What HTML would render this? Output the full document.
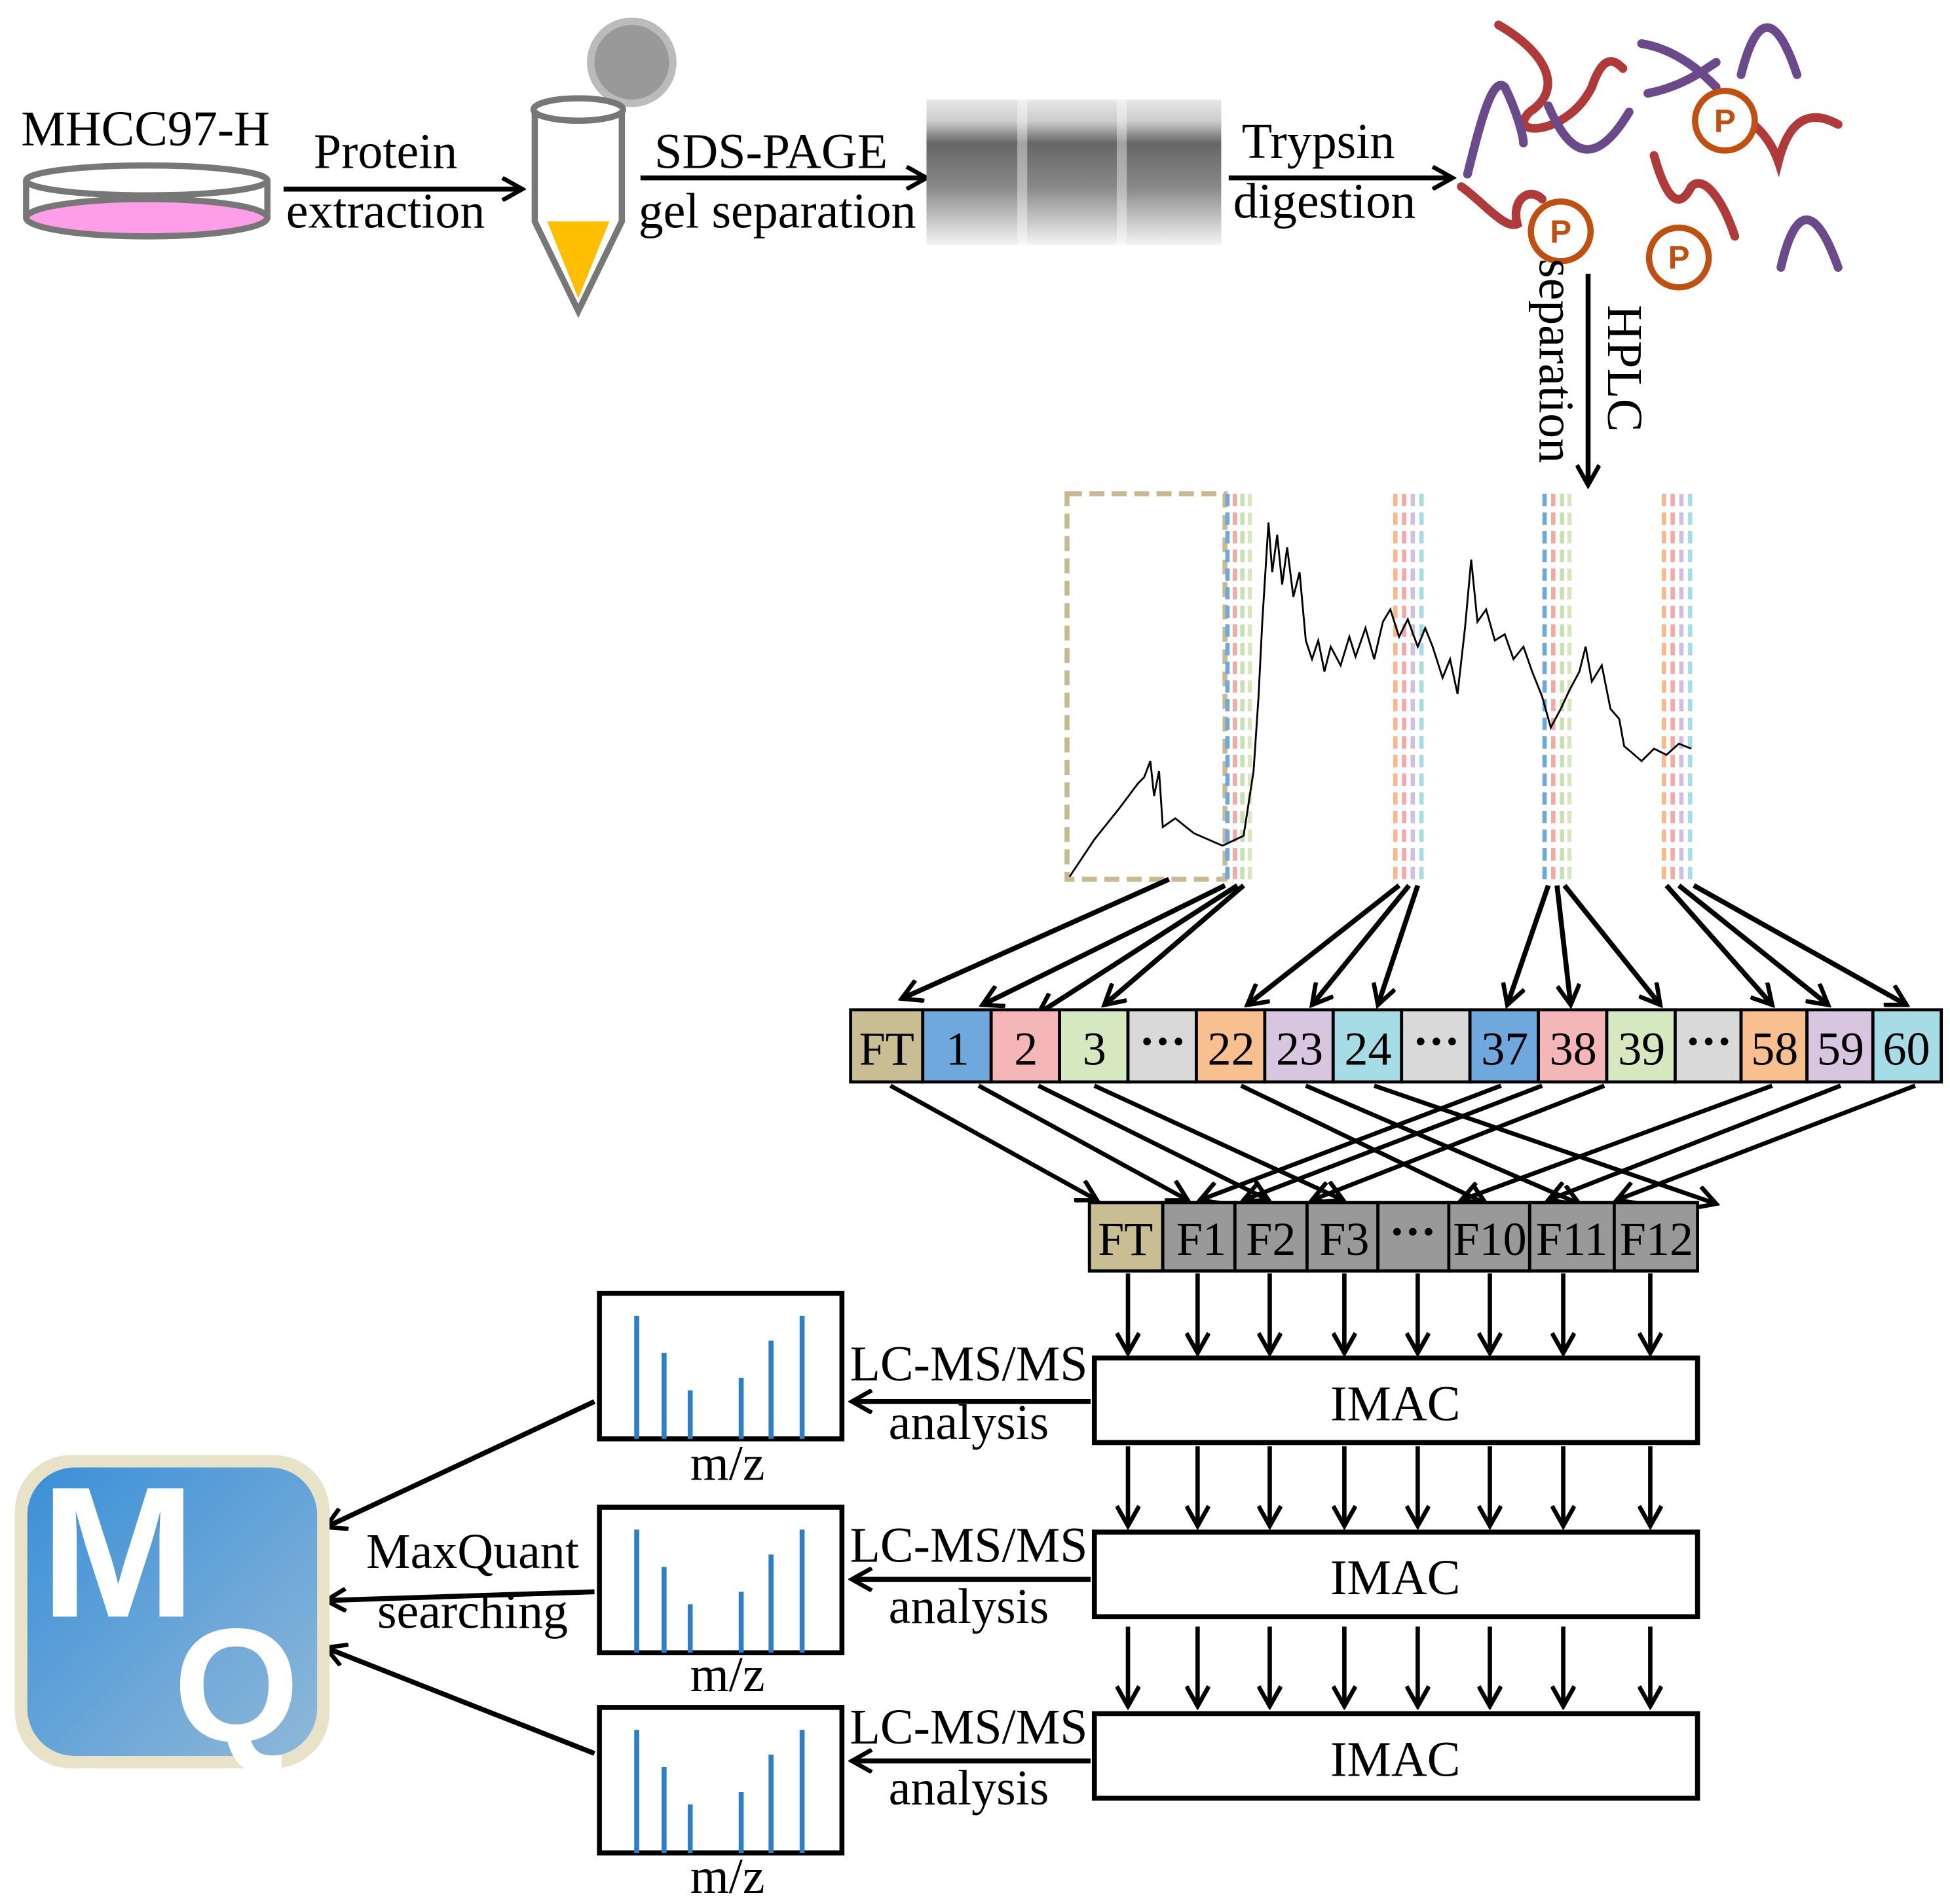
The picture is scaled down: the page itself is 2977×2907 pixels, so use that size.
<!DOCTYPE html>
<html><head><meta charset="utf-8"><style>html,body{margin:0;padding:0;background:#fff}svg{display:block}</style></head>
<body>
<svg width="2977" height="2907" viewBox="0 0 1568 1531" xmlns="http://www.w3.org/2000/svg" font-family="'Liberation Serif',serif">
<defs>
<marker id="b" markerWidth="20" markerHeight="20" refX="17" refY="10" orient="auto" markerUnits="userSpaceOnUse"><path d="M1,1 L17,10 L1,19" fill="none" stroke="#000" stroke-width="3.5"/></marker>
<linearGradient id="mq" x1="0" y1="0" x2="1" y2="1"><stop offset="0" stop-color="#3a8fd8"/><stop offset="1" stop-color="#8fb8d8"/></linearGradient>
<linearGradient id="gel" x1="0" y1="0" x2="0" y2="1"><stop offset="0" stop-color="#e8e8e8"/><stop offset="0.15" stop-color="#ccc"/><stop offset="0.3" stop-color="#666"/><stop offset="0.6" stop-color="#888"/><stop offset="1" stop-color="#f4f4f4"/></linearGradient>
</defs>
<g fill="none" stroke="#000" stroke-width="4">
<line x1="228" y1="152" x2="420" y2="152" marker-end="url(#b)"/>
<line x1="515" y1="143" x2="745" y2="143" marker-end="url(#b)"/>
<line x1="988" y1="143" x2="1168" y2="143" marker-end="url(#b)"/>
<line x1="1277" y1="220" x2="1277" y2="390" marker-end="url(#b)"/>
</g>
<ellipse cx="118" cy="175" rx="97" ry="15" fill="#ff9ee8" stroke="#777" stroke-width="5"/>
<path d="M21,145 L21,175 M215,145 L215,175" stroke="#777" stroke-width="5"/>
<ellipse cx="118" cy="145" rx="97" ry="12" fill="none" stroke="#777" stroke-width="5"/>
<g font-size="40" text-anchor="middle">
<text x="117" y="117">MHCC97-H</text>
<text x="310" y="135">Protein</text>
<text x="310" y="183">extraction</text>
<text x="620" y="135">SDS-PAGE</text>
<text x="625" y="183">gel separation</text>
<text x="1060" y="127">Trypsin</text>
<text x="1065" y="175">digestion</text>
</g>
<circle cx="508" cy="50" r="33" fill="#999" stroke="#bbb" stroke-width="6"/>
<path d="M440,178 L465,240 L490,178Z" fill="#ffbf00"/>
<path d="M430,90 L430,178 L465,250 L500,178 L500,90" fill="none" stroke="#777" stroke-width="5"/>
<ellipse cx="465" cy="88" rx="36" ry="9" fill="#fff" stroke="#777" stroke-width="5"/>
<rect x="745" y="80" width="237" height="117" fill="url(#gel)"/>
<rect x="818" y="80" width="8" height="117" fill="#fff" opacity="0.4"/>
<rect x="898" y="80" width="8" height="117" fill="#fff" opacity="0.4"/>
<g fill="none" stroke-width="7" stroke-linecap="round">
<path d="M1205,20 C1240,40 1260,70 1230,90 C1210,110 1260,110 1280,70 C1290,40 1300,50 1305,55" stroke="#b03a3a"/>
<path d="M1180,140 C1190,100 1200,60 1210,70 C1220,90 1225,110 1225,115" stroke="#6a4a8a"/>
<path d="M1245,85 C1260,120 1280,140 1310,90" stroke="#6a4a8a"/>
<path d="M1320,35 C1350,40 1370,60 1380,70" stroke="#6a4a8a"/>
<path d="M1325,75 C1350,70 1365,60 1380,50" stroke="#6a4a8a"/>
<path d="M1400,60 C1410,20 1425,0 1445,60" stroke="#6a4a8a"/>
<path d="M1370,95 C1390,80 1420,100 1430,130 C1440,90 1460,90 1478,100" stroke="#b03a3a"/>
<path d="M1175,150 C1190,160 1210,185 1220,180 C1215,160 1230,150 1240,160" stroke="#b03a3a"/>
<path d="M1330,125 C1340,160 1350,170 1360,150 C1370,140 1385,160 1395,190" stroke="#b03a3a"/>
<path d="M1432,215 C1440,180 1455,150 1478,215" stroke="#6a4a8a"/>
</g>
<g fill="#fff" stroke="#c05010" stroke-width="5">
<circle cx="1255" cy="186" r="24"/><circle cx="1387" cy="97" r="24"/><circle cx="1350" cy="207" r="24"/>
</g>
<g fill="#c05010" font-family="'Liberation Sans',sans-serif" font-weight="bold" font-size="26" text-anchor="middle">
<text x="1255" y="195">P</text><text x="1387" y="106">P</text><text x="1350" y="216">P</text></g>
<text transform="translate(1293,245) rotate(90)" font-size="40">HPLC</text>
<text transform="translate(1238,208) rotate(90)" font-size="40">separation</text>
<rect x="858" y="397" width="127" height="310" fill="none" stroke="#c8b990" stroke-width="4" stroke-dasharray="12,6"/>
<g stroke-width="3.5" stroke-dasharray="10,5">
<g transform="translate(987,0)"><line x1="0" y1="397" x2="0" y2="710" stroke="#6fa8dc"/><line x1="6" y1="397" x2="6" y2="710" stroke="#f4a8a8"/><line x1="12" y1="397" x2="12" y2="710" stroke="#c6e0b0"/><line x1="18" y1="397" x2="18" y2="710" stroke="#d5e8c0"/></g>
<g transform="translate(1122,0)"><line x1="0" y1="397" x2="0" y2="710" stroke="#f8b888"/><line x1="7" y1="397" x2="7" y2="710" stroke="#f4a8a8"/><line x1="14" y1="397" x2="14" y2="710" stroke="#d0c0e0"/><line x1="21" y1="397" x2="21" y2="710" stroke="#a5dce6"/></g>
<g transform="translate(1242,0)"><line x1="0" y1="397" x2="0" y2="710" stroke="#6fa8dc"/><line x1="7" y1="397" x2="7" y2="710" stroke="#f4a8a8"/><line x1="14" y1="397" x2="14" y2="710" stroke="#c6e0b0"/><line x1="20" y1="397" x2="20" y2="710" stroke="#d5e8c0"/></g>
<g transform="translate(1338,0)"><line x1="0" y1="397" x2="0" y2="710" stroke="#f8b888"/><line x1="7" y1="397" x2="7" y2="710" stroke="#f4a8a8"/><line x1="14" y1="397" x2="14" y2="710" stroke="#d0c0e0"/><line x1="21" y1="397" x2="21" y2="710" stroke="#a5dce6"/></g>
</g>
<polyline fill="none" stroke="#000" stroke-width="1.5" points="860,705 880,675 900,650 915,630 920,625 925,612 928,640 932,620 935,665 945,658 960,670 983,680 1000,672 1008,620 1012,560 1015,500 1020,420 1023,460 1027,430 1031,470 1035,440 1040,480 1045,460 1050,515 1055,530 1060,515 1065,540 1070,520 1078,535 1085,512 1090,528 1098,505 1105,530 1112,500 1118,490 1125,512 1132,498 1140,520 1146,505 1152,520 1160,545 1166,530 1172,558 1178,505 1183,450 1188,500 1195,490 1202,515 1210,510 1217,530 1225,520 1232,540 1240,560 1247,585 1255,570 1262,555 1270,540 1275,520 1280,548 1288,535 1295,570 1302,578 1306,600 1312,605 1320,612 1330,602 1340,607 1350,598 1360,602"/>
<g stroke="#000" stroke-width="4" fill="none">
<line x1="940" y1="707" x2="725" y2="803" marker-end="url(#b)"/>
<line x1="985" y1="712" x2="790" y2="808" marker-end="url(#b)"/>
<line x1="995" y1="712" x2="835" y2="815" marker-end="url(#b)"/>
<line x1="1000" y1="712" x2="888" y2="808" marker-end="url(#b)"/>
<line x1="1125" y1="712" x2="1003" y2="808" marker-end="url(#b)"/>
<line x1="1133" y1="712" x2="1055" y2="808" marker-end="url(#b)"/>
<line x1="1140" y1="712" x2="1108" y2="808" marker-end="url(#b)"/>
<line x1="1245" y1="712" x2="1212" y2="808" marker-end="url(#b)"/>
<line x1="1252" y1="712" x2="1263" y2="808" marker-end="url(#b)"/>
<line x1="1258" y1="712" x2="1335" y2="808" marker-end="url(#b)"/>
<line x1="1340" y1="712" x2="1425" y2="808" marker-end="url(#b)"/>
<line x1="1350" y1="712" x2="1470" y2="808" marker-end="url(#b)"/>
<line x1="1362" y1="712" x2="1533" y2="808" marker-end="url(#b)"/>
</g>
<g stroke="#000" stroke-width="2.5">
<rect x="684" y="812" width="58" height="58" fill="#c8bd93"/>
<rect x="742" y="812" width="55" height="58" fill="#6fa8dc"/>
<rect x="797" y="812" width="55" height="58" fill="#f4b6b6"/>
<rect x="852" y="812" width="55" height="58" fill="#d5e8c0"/>
<rect x="907" y="812" width="55" height="58" fill="#d9d9d9"/>
<rect x="962" y="812" width="55" height="58" fill="#f8c08e"/>
<rect x="1017" y="812" width="55" height="58" fill="#d8c5e0"/>
<rect x="1072" y="812" width="55" height="58" fill="#a5dce6"/>
<rect x="1127" y="812" width="55" height="58" fill="#d9d9d9"/>
<rect x="1182" y="812" width="55" height="58" fill="#6fa8dc"/>
<rect x="1237" y="812" width="55" height="58" fill="#f4b6b6"/>
<rect x="1292" y="812" width="55" height="58" fill="#d5e8c0"/>
<rect x="1347" y="812" width="53" height="58" fill="#d9d9d9"/>
<rect x="1400" y="812" width="53" height="58" fill="#f8c08e"/>
<rect x="1453" y="812" width="53" height="58" fill="#d8c5e0"/>
<rect x="1506" y="812" width="55" height="58" fill="#a5dce6"/>
</g>
<g font-size="38" text-anchor="middle">
<text x="713" y="856">FT</text><text x="770" y="856">1</text><text x="825" y="856">2</text><text x="880" y="856">3</text><text x="935" y="850" font-weight="bold">···</text>
<text x="990" y="856">22</text><text x="1045" y="856">23</text><text x="1100" y="856">24</text><text x="1155" y="850" font-weight="bold">···</text>
<text x="1210" y="856">37</text><text x="1265" y="856">38</text><text x="1320" y="856">39</text><text x="1374" y="850" font-weight="bold">···</text>
<text x="1427" y="856">58</text><text x="1480" y="856">59</text><text x="1533" y="856">60</text>
</g>
<g stroke="#000" stroke-width="3.5">
<line x1="716" y1="873" x2="882" y2="965" marker-end="url(#b)"/>
<line x1="787" y1="873" x2="955" y2="965" marker-end="url(#b)"/>
<line x1="835" y1="873" x2="1020" y2="965" marker-end="url(#b)"/>
<line x1="880" y1="873" x2="1080" y2="965" marker-end="url(#b)"/>
<line x1="998" y1="873" x2="1195" y2="968" marker-end="url(#b)"/>
<line x1="1050" y1="873" x2="1270" y2="968" marker-end="url(#b)"/>
<line x1="1105" y1="873" x2="1380" y2="968" marker-end="url(#b)"/>
<line x1="1207" y1="873" x2="965" y2="965" marker-end="url(#b)"/>
<line x1="1240" y1="873" x2="1000" y2="965" marker-end="url(#b)"/>
<line x1="1290" y1="873" x2="1055" y2="965" marker-end="url(#b)"/>
<line x1="1425" y1="873" x2="1175" y2="965" marker-end="url(#b)"/>
<line x1="1480" y1="873" x2="1245" y2="965" marker-end="url(#b)"/>
<line x1="1540" y1="873" x2="1300" y2="965" marker-end="url(#b)"/>
</g>
<g stroke="#000" stroke-width="2.5">
<rect x="876" y="967" width="59" height="55" fill="#c8bd93"/>
<rect x="935" y="967" width="58" height="55" fill="#999"/>
<rect x="993" y="967" width="58" height="55" fill="#999"/>
<rect x="1051" y="967" width="57" height="55" fill="#999"/>
<rect x="1108" y="967" width="57" height="55" fill="#999"/>
<rect x="1165" y="967" width="65" height="55" fill="#999"/>
<rect x="1230" y="967" width="68" height="55" fill="#999"/>
<rect x="1298" y="967" width="67" height="55" fill="#999"/>
</g>
<g font-size="38" text-anchor="middle">
<text x="905" y="1009">FT</text><text x="966" y="1009">F1</text><text x="1022" y="1009">F2</text><text x="1081" y="1009">F3</text><text x="1136" y="1003" font-weight="bold">···</text>
<text x="1198" y="1009">F10</text><text x="1264" y="1009">F11</text><text x="1332" y="1009">F12</text>
</g>
<g stroke="#000" stroke-width="3.5">
<g id="dn"><line x1="907" y1="1024" x2="907" y2="1088" marker-end="url(#b)"/><line x1="963" y1="1024" x2="963" y2="1088" marker-end="url(#b)"/><line x1="1021" y1="1024" x2="1021" y2="1088" marker-end="url(#b)"/><line x1="1081" y1="1024" x2="1081" y2="1088" marker-end="url(#b)"/><line x1="1140" y1="1024" x2="1140" y2="1088" marker-end="url(#b)"/><line x1="1198" y1="1024" x2="1198" y2="1088" marker-end="url(#b)"/><line x1="1257" y1="1024" x2="1257" y2="1088" marker-end="url(#b)"/><line x1="1327" y1="1024" x2="1327" y2="1088" marker-end="url(#b)"/></g>
<use href="#dn" y="139"/><use href="#dn" y="284"/>
</g>
<g fill="#fff" stroke="#000" stroke-width="4">
<rect x="880" y="1092" width="485" height="68"/><rect x="880" y="1232" width="485" height="68"/><rect x="880" y="1378" width="485" height="68"/>
</g>
<g font-size="40" text-anchor="middle">
<text x="1122" y="1142">IMAC</text><text x="1122" y="1282">IMAC</text><text x="1122" y="1428">IMAC</text>
<text x="779" y="1110">LC-MS/MS</text><text x="779" y="1157">analysis</text>
<text x="779" y="1256">LC-MS/MS</text><text x="779" y="1305">analysis</text>
<text x="779" y="1402">LC-MS/MS</text><text x="779" y="1451">analysis</text>
<text x="585" y="1190">m/z</text><text x="585" y="1360">m/z</text><text x="585" y="1522">m/z</text>
<text x="380" y="1261">MaxQuant</text><text x="380" y="1309">searching</text>
</g>
<g stroke="#000" stroke-width="4">
<line x1="877" y1="1127" x2="685" y2="1127" marker-end="url(#b)"/>
<line x1="877" y1="1270" x2="685" y2="1270" marker-end="url(#b)"/>
<line x1="877" y1="1416" x2="685" y2="1416" marker-end="url(#b)"/>
<line x1="478" y1="1127" x2="262" y2="1228" marker-end="url(#b)"/>
<line x1="478" y1="1280" x2="262" y2="1287" marker-end="url(#b)"/>
<line x1="478" y1="1410" x2="262" y2="1325" marker-end="url(#b)"/>
</g>
<g id="sp">
<rect x="482" y="1040" width="195" height="117" fill="#fff" stroke="#000" stroke-width="4"/>
<g stroke="#2a7fc8" stroke-width="4"><line x1="512" y1="1157" x2="512" y2="1058"/><line x1="534" y1="1157" x2="534" y2="1088"/><line x1="555" y1="1157" x2="555" y2="1118"/><line x1="596" y1="1157" x2="596" y2="1108"/><line x1="620" y1="1157" x2="620" y2="1078"/><line x1="645" y1="1157" x2="645" y2="1058"/></g>
</g>
<use href="#sp" y="172"/><use href="#sp" y="333"/>
<rect x="12" y="1170" width="253" height="252" rx="45" fill="#e8e2c8"/>
<rect x="22" y="1180" width="233" height="232" rx="38" fill="url(#mq)"/>
<text x="95" y="1300" font-family="'Liberation Sans',sans-serif" font-weight="bold" font-size="150" fill="#fff" text-anchor="middle">M</text>
<text x="190" y="1400" font-family="'Liberation Sans',sans-serif" font-weight="bold" font-size="130" fill="#fff" text-anchor="middle">Q</text>
</svg>
</body></html>
